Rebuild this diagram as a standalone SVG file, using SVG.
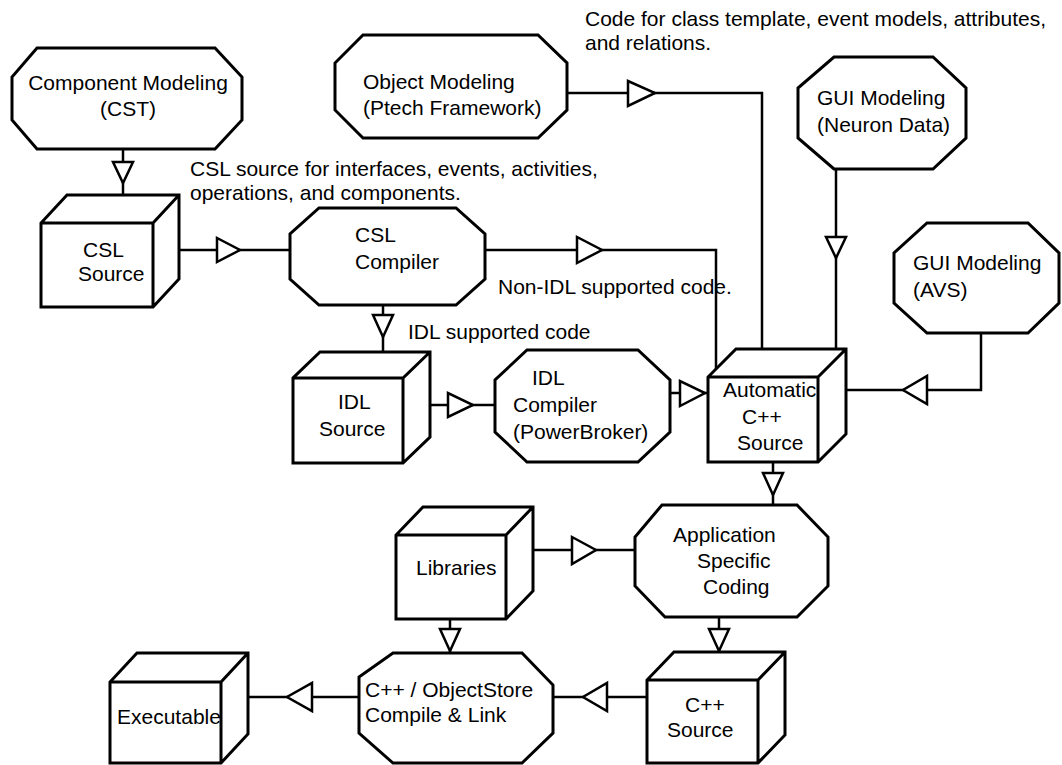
<svg xmlns="http://www.w3.org/2000/svg" width="1062" height="765" viewBox="0 0 1062 765">
  <style>
    .bg { fill: #ffffff; }
    .node { fill: #ffffff; stroke: #000000; stroke-width: 3; stroke-linejoin: miter; }
    .wire { fill: none; stroke: #000000; stroke-width: 2.5; }
    .arrow { fill: #ffffff; stroke: #000000; stroke-width: 2.5; stroke-linejoin: miter; }
    text { font-family: "Liberation Sans", Arial, sans-serif; font-size: 21px; fill: #000000; }
  </style>
  <rect class="bg" x="0" y="0" width="1062" height="765"/>

  <!-- flow lines with hollow mid-line arrowheads -->
  <g id="connectors">
    <!-- Component Modeling -> CSL Source -->
    <path class="wire" d="M123,149 V195"/>
    <polygon class="arrow" points="113,162 133,162 123,183"/>
    <!-- CSL Source -> CSL Compiler -->
    <path class="wire" d="M179,250 H290"/>
    <polygon class="arrow" points="217,238 217,262 240,250"/>
    <!-- CSL Compiler -> IDL Source -->
    <path class="wire" d="M383,305 V352"/>
    <polygon class="arrow" points="373,315 393,315 383,337"/>
    <!-- IDL Source -> IDL Compiler -->
    <path class="wire" d="M430,405 H495"/>
    <polygon class="arrow" points="448,393 448,417 473,405"/>
    <!-- IDL Compiler -> Automatic C++ Source -->
    <path class="wire" d="M670,393 H708"/>
    <polygon class="arrow" points="680,381 680,406 705,393"/>
    <!-- CSL Compiler -> Automatic C++ Source (non-IDL code) -->
    <path class="wire" d="M485,250 H716 V369"/>
    <polygon class="arrow" points="577,237 577,263 602,250"/>
    <!-- Object Modeling -> Automatic C++ Source -->
    <path class="wire" d="M567,93 H762 V349"/>
    <polygon class="arrow" points="628,81 628,106 655,93"/>
    <!-- GUI Modeling (Neuron Data) -> Automatic C++ Source -->
    <path class="wire" d="M836,169 V349"/>
    <polygon class="arrow" points="826,237 846,237 836,258"/>
    <!-- GUI Modeling (AVS) -> Automatic C++ Source -->
    <path class="wire" d="M981,333 V390 H846"/>
    <polygon class="arrow" points="927,376 927,404 903,390"/>
    <!-- Automatic C++ Source -> Application Specific Coding -->
    <path class="wire" d="M773,462 V505"/>
    <polygon class="arrow" points="763,473 783,473 773,495"/>
    <!-- Libraries -> Application Specific Coding -->
    <path class="wire" d="M533,550 H635"/>
    <polygon class="arrow" points="572,537 572,564 596,550"/>
    <!-- Libraries -> Compile & Link -->
    <path class="wire" d="M450,619 V653"/>
    <polygon class="arrow" points="440,629 460,629 450,651"/>
    <!-- Application Specific Coding -> C++ Source -->
    <path class="wire" d="M719,617 V652"/>
    <polygon class="arrow" points="709,629 729,629 719,651"/>
    <!-- C++ Source -> Compile & Link -->
    <path class="wire" d="M647,697 H553"/>
    <polygon class="arrow" points="607,683 607,711 583,697"/>
    <!-- Compile & Link -> Executable -->
    <path class="wire" d="M359,697 H248"/>
    <polygon class="arrow" points="312,683 312,711 287,697"/>
  </g>

  <g id="component-modeling">
    <polygon class="node" points="37,48 215,48 242,77 242,120 215,149 37,149 12,120 12,77"/>
    <text x="128" y="90" text-anchor="middle">Component Modeling</text>
    <text x="128" y="116" text-anchor="middle">(CST)</text>
  </g>

  <g id="csl-source">
    <path class="node" d="M41,307 V223 L67,195 H179 V279 L153,307 Z M41,223 H153 L179,195 M153,223 V307"/>
    <text x="83" y="257">CSL</text>
    <text x="78" y="281">Source</text>
  </g>

  <g id="csl-compiler">
    <polygon class="node" points="319,208 456,208 485,234 485,279 456,305 319,305 290,279 290,234"/>
    <text x="355" y="242">CSL</text>
    <text x="355" y="269">Compiler</text>
  </g>

  <g id="idl-source">
    <path class="node" d="M293,463 V378 L320,352 H430 V437 L403,463 Z M293,378 H403 L430,352 M403,378 V463"/>
    <text x="338" y="409">IDL</text>
    <text x="319" y="436">Source</text>
  </g>

  <g id="idl-compiler">
    <polygon class="node" points="527,350 638,350 670,380 670,432 638,462 527,462 495,432 495,380"/>
    <text x="532" y="385">IDL</text>
    <text x="513" y="412">Compiler</text>
    <text x="513" y="439">(PowerBroker)</text>
  </g>

  <g id="object-modeling">
    <polygon class="node" points="363,35 538,35 567,63 567,110 538,138 363,138 335,110 335,63"/>
    <text x="363" y="89">Object Modeling</text>
    <text x="363" y="115">(Ptech Framework)</text>
  </g>

  <g id="gui-modeling-neuron">
    <polygon class="node" points="834,57 933,57 966,88 966,138 933,169 834,169 798,138 798,88"/>
    <text x="817" y="105">GUI Modeling</text>
    <text x="817" y="132">(Neuron Data)</text>
  </g>

  <g id="gui-modeling-avs">
    <polygon class="node" points="927,223 1028,223 1059,253 1059,303 1028,333 927,333 894,303 894,253"/>
    <text x="913" y="270">GUI Modeling</text>
    <text x="913" y="297">(AVS)</text>
  </g>

  <g id="automatic-cpp-source">
    <path class="node" d="M708,462 V377 L736,349 H846 V434 L818,462 Z M708,377 H818 L846,349 M818,377 V462"/>
    <text x="723" y="397">Automatic</text>
    <text x="742" y="424">C++</text>
    <text x="737" y="450">Source</text>
  </g>

  <g id="application-specific-coding">
    <polygon class="node" points="662,505 797,505 828,537 828,586 797,617 665,617 635,586 635,537"/>
    <text x="673" y="542">Application</text>
    <text x="697" y="568">Specific</text>
    <text x="703" y="594">Coding</text>
  </g>

  <g id="libraries">
    <path class="node" d="M396,619 V535 L423,507 H533 V591 L506,619 Z M396,535 H506 L533,507 M506,535 V619"/>
    <text x="416" y="575">Libraries</text>
  </g>

  <g id="cpp-source">
    <path class="node" d="M647,763 V680 L674,652 H785 V735 L758,763 Z M647,680 H758 L785,652 M758,680 V763"/>
    <text x="685" y="712">C++</text>
    <text x="667" y="737">Source</text>
  </g>

  <g id="compile-link">
    <polygon class="node" points="393,653 522,653 553,685 553,733 522,763 393,763 359,733 359,677"/>
    <text x="365" y="697">C++ / ObjectStore</text>
    <text x="365" y="722">Compile &amp; Link</text>
  </g>

  <g id="executable">
    <path class="node" d="M110,763 V682 L137,653 H248 V734 L221,763 Z M110,682 H221 L248,653 M221,682 V763"/>
    <text x="117" y="724">Executable</text>
  </g>

  <!-- free-standing annotations -->
  <g id="labels">
    <text x="585" y="26">Code for class template, event models, attributes,</text>
    <text x="585" y="50">and relations.</text>
    <text x="190" y="176">CSL source for interfaces, events, activities,</text>
    <text x="190" y="200">operations, and components.</text>
    <text x="498" y="294">Non-IDL supported code.</text>
    <text x="408" y="339">IDL supported code</text>
  </g>
</svg>
